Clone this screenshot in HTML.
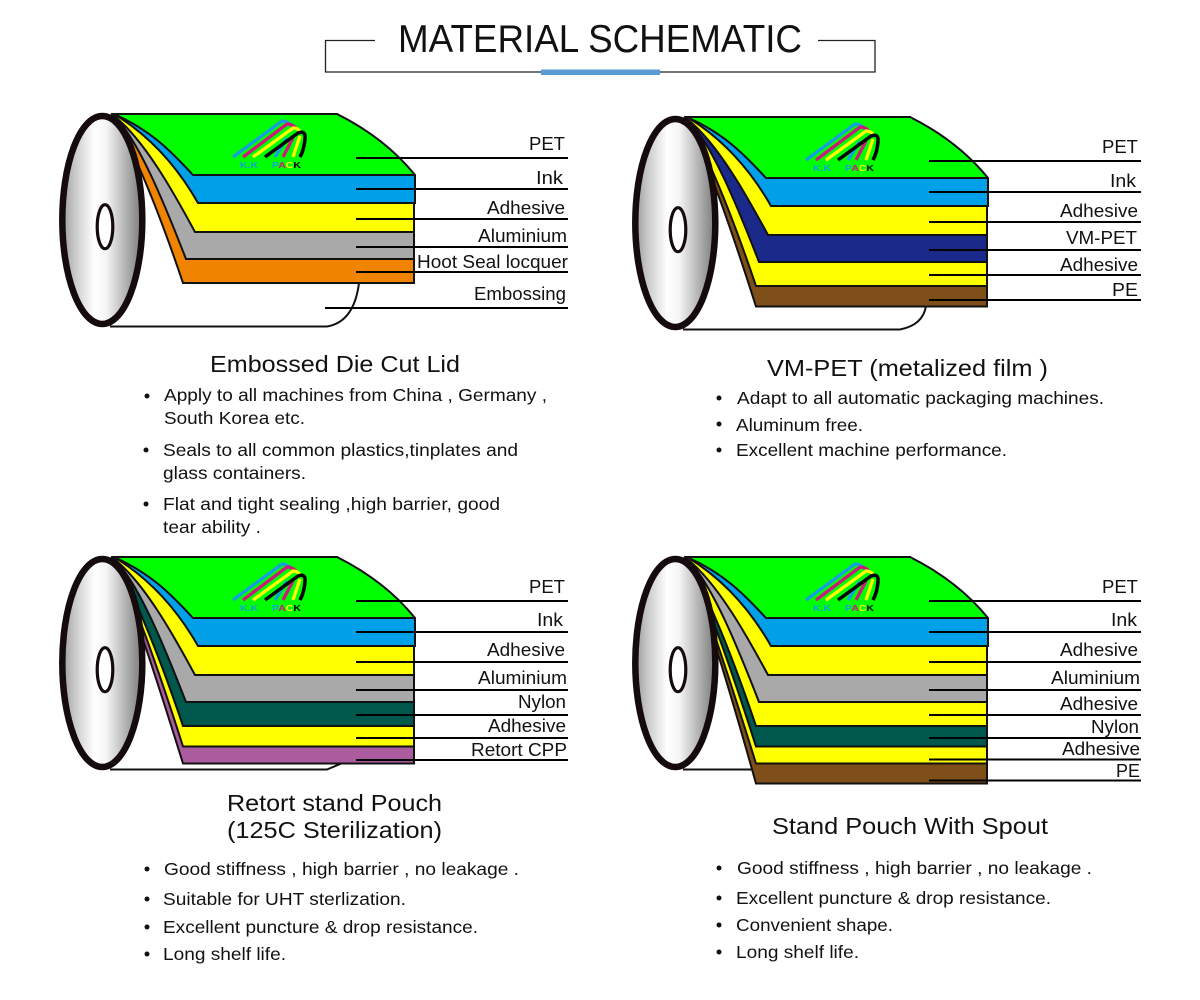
<!DOCTYPE html>
<html><head><meta charset="utf-8"><style>
html,body{margin:0;padding:0;background:#fff}
svg{display:block}
text{font-family:"Liberation Sans",sans-serif;fill:#111}
.l{font-size:18px}
.h{font-size:23px}
.b{font-size:17.5px}
.t{font-size:39px}
.k{font-size:8.5px;font-weight:bold}
</style></head><body>
<svg width="1200" height="1000" viewBox="0 0 1200 1000" xmlns="http://www.w3.org/2000/svg">
<defs>
<linearGradient id="dg" x1="0" x2="1" y1="0" y2="0">
<stop offset="0" stop-color="#9a9a9a"/><stop offset=".15" stop-color="#c8c8c8"/><stop offset=".4" stop-color="#fff"/><stop offset=".55" stop-color="#f5f5f5"/><stop offset="1" stop-color="#7a7a7a"/>
</linearGradient>
<g id="disk">
<ellipse cx="102.300" cy="220" rx="40" ry="104" fill="url(#dg)" stroke="#150a0c" stroke-width="6.500"/>
<ellipse cx="105" cy="226.700" rx="7.800" ry="22" fill="#fff" stroke="#150a0c" stroke-width="3.200"/>
</g>
<path id="a1" d="M112 114L337 114Q385 138 415 175L193 175C170 150 150 130 114 114z" stroke="#111" stroke-width="2" stroke-linejoin="round"/>
<path id="a2" d="M114 114Q165 145 198 203L415 203L415 175L337 114z" stroke="#111" stroke-width="2"/>
<path id="a3" d="M113 115C145 140 175 195 195 232L414 232L414 175L337 114z" stroke="#111" stroke-width="2"/>
<path id="a4" d="M113 115C138 138 165 205 186 259L414 259L414 175L337 114z" stroke="#111" stroke-width="2"/>
<path id="a5" d="M112 116C127 135 155 200 183 283L414 283L414 175L337 114z" stroke="#111" stroke-width="2"/>
<path id="a6" d="M112 116C125 135 150 200 183 303.500L414 303.500L414 175L337 114z" stroke="#111" stroke-width="2"/>
<path id="a7" d="M112 116C123 135 147 205 183 320.500L414 320.500L414 175L337 114z" stroke="#111" stroke-width="2"/>
<path id="a8" d="M112 116C121 135 145 205 183 340.500L414 340.500L414 175L337 114z" stroke="#111" stroke-width="2"/>
<g id="logo" fill="none" stroke-width="3.300">
<path d="M233 157L282 121Q287 121 291 125" stroke="#14a0dc"/>
<path d="M243 157L287 124Q292 124 296 128" stroke="#d0187c"/>
<path d="M253 157L293 128Q297 128 300 131" stroke="#ffff00"/>
<path d="M275 157L287 138" stroke="#14a0dc"/>
<path d="M283 157L293 138" stroke="#d0187c"/>
<path d="M293 157L300 136" stroke="#ffff00"/>
<path d="M265 157L298 133Q306 130 305 139Q304 150 300 157" stroke="#000" stroke-width="3.500"/>
</g>
</defs>

<!-- title -->
<path d="M375 40.500H325.500V72H875V40.500H818" fill="none" stroke="#222" stroke-width="1.300"/>
<rect x="541" y="69.500" width="119" height="5.500" fill="#5b9bd5"/>
<text class="t" x="398" y="52" textLength="404" lengthAdjust="spacingAndGlyphs">MATERIAL SCHEMATIC</text>

<!-- panel 1 -->
<g>
<path d="M110 326.500H327Q354 322 359 283" fill="none" stroke="#111" stroke-width="2"/>
<use href="#a5" fill="#f08300"/><use href="#a4" fill="#a9a9a9"/><use href="#a3" fill="#ffff00"/><use href="#a2" fill="#00a0e9"/><use href="#a1" fill="#00ff00"/>
<use href="#logo"/><use href="#disk"/>
<text class="k" x="240" y="168" textLength="18" lengthAdjust="spacingAndGlyphs" style="fill:#14a0dc">K.K</text>
<text class="k" x="272" y="168" textLength="29" lengthAdjust="spacingAndGlyphs"><tspan style="fill:#14a0dc">P</tspan><tspan style="fill:#d0187c">A</tspan><tspan style="fill:#ffff00">C</tspan><tspan style="fill:#000">K</tspan></text>
<path d="M356 158H568M356 189H568M356 219H568M356 247H568M356 272H568M325 308H568" stroke="#000" stroke-width="2"/>
</g>
<text class="l" x="529" y="150" textLength="36" lengthAdjust="spacingAndGlyphs">PET</text>
<text class="l" x="536" y="184" textLength="27" lengthAdjust="spacingAndGlyphs">Ink</text>
<text class="l" x="487" y="214" textLength="78" lengthAdjust="spacingAndGlyphs">Adhesive</text>
<text class="l" x="478" y="242" textLength="89" lengthAdjust="spacingAndGlyphs">Aluminium</text>
<text class="l" x="417" y="268" textLength="151" lengthAdjust="spacingAndGlyphs">Hoot Seal locquer</text>
<text class="l" x="474" y="300" textLength="92" lengthAdjust="spacingAndGlyphs">Embossing</text>

<!-- panel 2 -->
<g transform="translate(573,3)">
<path d="M110 326.500H327Q350 322 353 303" fill="none" stroke="#111" stroke-width="2"/>
<use href="#a6" fill="#7f4f1a"/><use href="#a5" fill="#ffff00"/><use href="#a4" fill="#1b2a8a"/><use href="#a3" fill="#ffff00"/><use href="#a2" fill="#00a0e9"/><use href="#a1" fill="#00ff00"/>
<use href="#logo"/><use href="#disk"/>
<text class="k" x="240" y="168" textLength="18" lengthAdjust="spacingAndGlyphs" style="fill:#14a0dc">K.K</text>
<text class="k" x="272" y="168" textLength="29" lengthAdjust="spacingAndGlyphs"><tspan style="fill:#14a0dc">P</tspan><tspan style="fill:#d0187c">A</tspan><tspan style="fill:#ffff00">C</tspan><tspan style="fill:#000">K</tspan></text>
<path d="M356 158H568M356 189H568M356 219H568M356 247H568M356 272H568M356 297H568" stroke="#000" stroke-width="2"/>
</g>
<text class="l" x="1102" y="153" textLength="36" lengthAdjust="spacingAndGlyphs">PET</text>
<text class="l" x="1110" y="187" textLength="26" lengthAdjust="spacingAndGlyphs">Ink</text>
<text class="l" x="1060" y="217" textLength="78" lengthAdjust="spacingAndGlyphs">Adhesive</text>
<text class="l" x="1066" y="244" textLength="71" lengthAdjust="spacingAndGlyphs">VM-PET</text>
<text class="l" x="1060" y="271" textLength="78" lengthAdjust="spacingAndGlyphs">Adhesive</text>
<text class="l" x="1112" y="296" textLength="26" lengthAdjust="spacingAndGlyphs">PE</text>

<!-- panel 3 -->
<g transform="translate(0,443)">
<path d="M110 326.500H327L345 319" fill="none" stroke="#111" stroke-width="2"/>
<use href="#a7" fill="#ab5c9f"/><use href="#a6" fill="#ffff00"/><use href="#a5" fill="#00574b"/><use href="#a4" fill="#a9a9a9"/><use href="#a3" fill="#ffff00"/><use href="#a2" fill="#00a0e9"/><use href="#a1" fill="#00ff00"/>
<use href="#logo"/><use href="#disk"/>
<text class="k" x="240" y="168" textLength="18" lengthAdjust="spacingAndGlyphs" style="fill:#14a0dc">K.K</text>
<text class="k" x="272" y="168" textLength="29" lengthAdjust="spacingAndGlyphs"><tspan style="fill:#14a0dc">P</tspan><tspan style="fill:#d0187c">A</tspan><tspan style="fill:#ffff00">C</tspan><tspan style="fill:#000">K</tspan></text>
<path d="M356 158H568M356 189H568M356 219H568M356 247H568M356 272H568M356 295H568M356 317H568" stroke="#000" stroke-width="2"/>
</g>
<text class="l" x="529" y="593" textLength="36" lengthAdjust="spacingAndGlyphs">PET</text>
<text class="l" x="537" y="626" textLength="26" lengthAdjust="spacingAndGlyphs">Ink</text>
<text class="l" x="487" y="656" textLength="78" lengthAdjust="spacingAndGlyphs">Adhesive</text>
<text class="l" x="478" y="684" textLength="89" lengthAdjust="spacingAndGlyphs">Aluminium</text>
<text class="l" x="518" y="708" textLength="48" lengthAdjust="spacingAndGlyphs">Nylon</text>
<text class="l" x="488" y="732" textLength="78" lengthAdjust="spacingAndGlyphs">Adhesive</text>
<text class="l" x="471" y="756" textLength="96" lengthAdjust="spacingAndGlyphs">Retort CPP</text>

<!-- panel 4 -->
<g transform="translate(573,443)">
<path d="M110 326.500H180" fill="none" stroke="#111" stroke-width="2"/>
<use href="#a8" fill="#7f4f1a"/><use href="#a7" fill="#ffff00"/><use href="#a6" fill="#00574b"/><use href="#a5" fill="#ffff00"/><use href="#a4" fill="#a9a9a9"/><use href="#a3" fill="#ffff00"/><use href="#a2" fill="#00a0e9"/><use href="#a1" fill="#00ff00"/>
<use href="#logo"/><use href="#disk"/>
<text class="k" x="240" y="168" textLength="18" lengthAdjust="spacingAndGlyphs" style="fill:#14a0dc">K.K</text>
<text class="k" x="272" y="168" textLength="29" lengthAdjust="spacingAndGlyphs"><tspan style="fill:#14a0dc">P</tspan><tspan style="fill:#d0187c">A</tspan><tspan style="fill:#ffff00">C</tspan><tspan style="fill:#000">K</tspan></text>
<path d="M356 158H568M356 189H568M356 219H568M356 247H568M356 272H568M356 295H568M356 316.500H568M356 337.500H568" stroke="#000" stroke-width="2"/>
</g>
<text class="l" x="1102" y="593" textLength="36" lengthAdjust="spacingAndGlyphs">PET</text>
<text class="l" x="1111" y="626" textLength="26" lengthAdjust="spacingAndGlyphs">Ink</text>
<text class="l" x="1060" y="656" textLength="78" lengthAdjust="spacingAndGlyphs">Adhesive</text>
<text class="l" x="1051" y="684" textLength="89" lengthAdjust="spacingAndGlyphs">Aluminium</text>
<text class="l" x="1060" y="710" textLength="78" lengthAdjust="spacingAndGlyphs">Adhesive</text>
<text class="l" x="1091" y="733" textLength="48" lengthAdjust="spacingAndGlyphs">Nylon</text>
<text class="l" x="1062" y="755" textLength="78" lengthAdjust="spacingAndGlyphs">Adhesive</text>
<text class="l" x="1116" y="777" textLength="24" lengthAdjust="spacingAndGlyphs">PE</text>

<!-- headings -->
<text class="h" x="210" y="372" textLength="250" lengthAdjust="spacingAndGlyphs">Embossed Die Cut Lid</text>
<text class="h" x="767" y="376" textLength="281" lengthAdjust="spacingAndGlyphs">VM-PET (metalized film )</text>
<text class="h" x="227" y="811" textLength="215" lengthAdjust="spacingAndGlyphs">Retort stand Pouch</text>
<text class="h" x="227" y="838" textLength="215" lengthAdjust="spacingAndGlyphs">(125C Sterilization)</text>
<text class="h" x="772" y="834" textLength="276" lengthAdjust="spacingAndGlyphs">Stand Pouch With Spout</text>

<!-- bullets -->
<g fill="#111">
<circle cx="147" cy="396" r="2.500"/><circle cx="146" cy="450" r="2.500"/><circle cx="146" cy="504" r="2.500"/>
<circle cx="719" cy="398" r="2.500"/><circle cx="719" cy="424" r="2.500"/><circle cx="719" cy="450" r="2.500"/>
<circle cx="147" cy="869" r="2.500"/><circle cx="147" cy="899" r="2.500"/><circle cx="147" cy="927" r="2.500"/><circle cx="147" cy="954" r="2.500"/>
<circle cx="719" cy="868" r="2.500"/><circle cx="719" cy="898" r="2.500"/><circle cx="719" cy="925" r="2.500"/><circle cx="719" cy="952" r="2.500"/>
</g>
<text class="b" x="164" y="401" textLength="383" lengthAdjust="spacingAndGlyphs">Apply to all machines from China , Germany ,</text>
<text class="b" x="164" y="424" textLength="141" lengthAdjust="spacingAndGlyphs">South Korea etc.</text>
<text class="b" x="163" y="456" textLength="355" lengthAdjust="spacingAndGlyphs">Seals to all common plastics,tinplates and</text>
<text class="b" x="163" y="479" textLength="143" lengthAdjust="spacingAndGlyphs">glass containers.</text>
<text class="b" x="163" y="510" textLength="337" lengthAdjust="spacingAndGlyphs">Flat and tight sealing ,high barrier, good</text>
<text class="b" x="163" y="533" textLength="98" lengthAdjust="spacingAndGlyphs">tear ability .</text>

<text class="b" x="737" y="404" textLength="367" lengthAdjust="spacingAndGlyphs">Adapt to all automatic packaging machines.</text>
<text class="b" x="736" y="431" textLength="127" lengthAdjust="spacingAndGlyphs">Aluminum free.</text>
<text class="b" x="736" y="456" textLength="271" lengthAdjust="spacingAndGlyphs">Excellent machine performance.</text>

<text class="b" x="164" y="875" textLength="355" lengthAdjust="spacingAndGlyphs">Good stiffness , high barrier , no leakage .</text>
<text class="b" x="163" y="905" textLength="243" lengthAdjust="spacingAndGlyphs">Suitable for UHT sterlization.</text>
<text class="b" x="163" y="933" textLength="315" lengthAdjust="spacingAndGlyphs">Excellent puncture &amp; drop resistance.</text>
<text class="b" x="163" y="960" textLength="123" lengthAdjust="spacingAndGlyphs">Long shelf life.</text>

<text class="b" x="737" y="874" textLength="355" lengthAdjust="spacingAndGlyphs">Good stiffness , high barrier , no leakage .</text>
<text class="b" x="736" y="904" textLength="315" lengthAdjust="spacingAndGlyphs">Excellent puncture &amp; drop resistance.</text>
<text class="b" x="736" y="931" textLength="157" lengthAdjust="spacingAndGlyphs">Convenient shape.</text>
<text class="b" x="736" y="958" textLength="123" lengthAdjust="spacingAndGlyphs">Long shelf life.</text>
</svg>
</body></html>
